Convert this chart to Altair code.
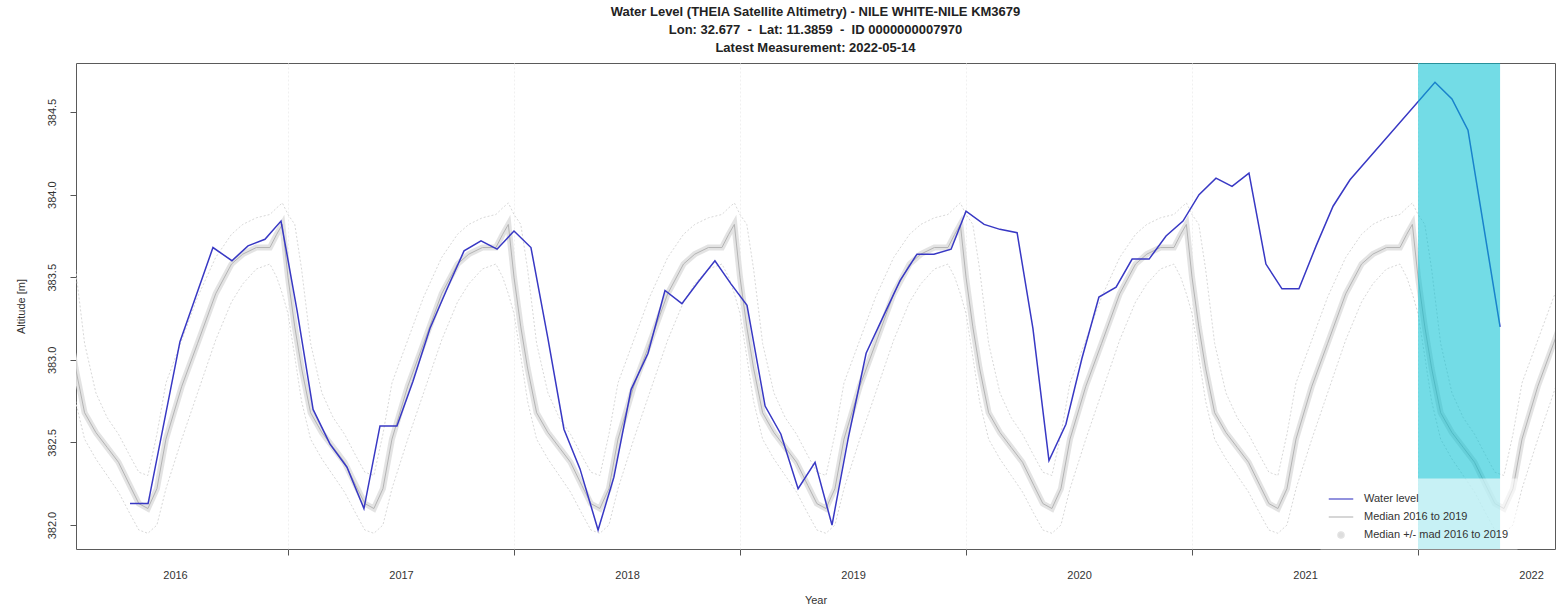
import altair as alt
import pandas as pd

# --- Water level series (decimal year, altitude in metres) ---
wl_year = [
    2016.301, 2016.381, 2016.522, 2016.668, 2016.752, 2016.823, 2016.898, 2016.969,
    2017.040, 2017.111, 2017.186, 2017.261, 2017.336, 2017.407, 2017.482, 2017.553,
    2017.628, 2017.704, 2017.779, 2017.854, 2017.925, 2018.000, 2018.075, 2018.150,
    2018.221, 2018.292, 2018.372, 2018.442, 2018.518, 2018.593, 2018.668, 2018.743,
    2018.814, 2018.889, 2018.960, 2019.031, 2019.111, 2019.181, 2019.257, 2019.332,
    2019.407, 2019.478, 2019.558, 2019.633, 2019.708, 2019.783, 2019.858, 2019.934,
    2020.000, 2020.080, 2020.150, 2020.226, 2020.296, 2020.367, 2020.442, 2020.513,
    2020.588, 2020.664, 2020.735, 2020.810, 2020.885, 2020.960, 2021.031, 2021.106,
    2021.177, 2021.252, 2021.327, 2021.398, 2021.473, 2021.549, 2021.624, 2021.699,
    2022.075, 2022.150, 2022.221, 2022.363,
]
wl_alt = [
    382.13, 382.13, 383.11, 383.68, 383.60, 383.69, 383.73, 383.84,
    383.30, 382.70, 382.49, 382.35, 382.10, 382.60, 382.60, 382.87,
    383.19, 383.43, 383.66, 383.72, 383.67, 383.78, 383.68, 383.13,
    382.58, 382.34, 381.97, 382.29, 382.82, 383.04, 383.42, 383.34,
    383.47, 383.60, 383.46, 383.33, 382.72, 382.55, 382.22, 382.38,
    382.00, 382.52, 383.04, 383.26, 383.48, 383.64, 383.64, 383.67,
    383.90, 383.82, 383.79, 383.77, 383.19, 382.39, 382.61, 383.01,
    383.38, 383.44, 383.61, 383.61, 383.75, 383.84, 384.00, 384.10,
    384.05, 384.13, 383.58, 383.43, 383.43, 383.69, 383.93, 384.09,
    384.68, 384.58, 384.39, 383.20,
]

# --- Seasonal statistics of the 2016-2019 reference period (fraction of year) ---
season_frac = [0.00, 0.03, 0.06, 0.10, 0.15, 0.20, 0.25, 0.30, 0.34, 0.38, 0.42,
               0.46, 0.53, 0.60, 0.68, 0.75, 0.80, 0.86, 0.92, 0.95, 0.975]
season_median = [383.50, 383.20, 382.95, 382.68, 382.56, 382.47, 382.38, 382.24, 382.13, 382.10, 382.22,
                 382.52, 382.84, 383.10, 383.40, 383.58, 383.64, 383.68, 383.68, 383.76, 383.82]
season_upper = [383.88, 383.82, 383.55, 383.10, 382.80, 382.65, 382.55, 382.42, 382.32, 382.30, 382.55,
                382.86, 383.12, 383.38, 383.62, 383.76, 383.82, 383.86, 383.88, 383.92, 383.95]
season_lower = [383.28, 383.02, 382.75, 382.52, 382.40, 382.30, 382.20, 382.07, 381.97, 381.95, 382.00,
                382.22, 382.52, 382.80, 383.12, 383.35, 383.46, 383.55, 383.58, 383.50, 383.40]
profile_years = list(range(2015, 2023))

# Current-year highlight (start of year to latest measurement)
highlight_start = [2022.0]
highlight_end = [2022.363]

S_WL = "Water level"
S_MED = "Median 2016 to 2019"
S_MAD = "Median +/- mad 2016 to 2019"
series_names = [S_WL, S_MED, S_MAD]
series_colors = ["#3838c4", "#b4b4b4", "#e0e0e0"]

FONT = "Liberation Sans"
NB = "\u00a0"
# small dot for the legend, drawn inside the unit square of the symbol
DOT = "M -0.26 0 A 0.26 0.26 0 1 0 0.26 0 A 0.26 0.26 0 1 0 -0.26 0 Z"

# --- Tables ---
wl = pd.DataFrame({"t": wl_year, "h": wl_alt, "series": S_WL})

rows = []
for yr in profile_years:
    for f, m, u, lo in zip(season_frac, season_median, season_upper, season_lower):
        rows.append({"t": yr + f, "median": m, "upper": u, "lower": lo})
season = pd.DataFrame(rows)
med = season[["t", "median"]].rename(columns={"median": "h"}).assign(series=S_MED)
mad = season[["t", "median"]].rename(columns={"median": "h"}).assign(series=S_MAD)
spread = pd.concat([
    season[["t", "upper"]].rename(columns={"upper": "h"}).assign(side="upper"),
    season[["t", "lower"]].rename(columns={"lower": "h"}).assign(side="lower"),
])
highlight = pd.DataFrame({"start": highlight_start, "end": highlight_end})
legend_rows = pd.DataFrame({"series": series_names})

# --- Scales and axes ---
x_scale = alt.Scale(domain=[2016.062, 2022.606], nice=False, zero=False)
y_scale = alt.Scale(domain=[381.855, 384.797], nice=False, zero=False)

x_values = [2016.5 + i * 0.5 for i in range(13)]
x_axis = alt.Axis(
    values=x_values,
    labelExpr="datum.value % 1 == 0 ? '' : toString(floor(datum.value))",
    tickOpacity={"condition": {"test": "datum.value % 1 == 0", "value": 1}, "value": 0},
    gridOpacity={"condition": {"test": "datum.value % 1 == 0", "value": 1}, "value": 0},
    grid=True, gridColor="#f0f0f0", gridDash=[2, 2],
    tickSize=6, tickColor="#555555", labelPadding=14, labelOverlap=False, labelFlush=False,
    titlePadding=14, domain=False,
)
y_axis = alt.Axis(
    values=[382.0, 382.5, 383.0, 383.5, 384.0, 384.5], format=".1f",
    labelAngle=270, labelAlign="center", labelBaseline="bottom", labelPadding=13,
    tickSize=6, tickColor="#555555", grid=False, domain=False, titlePadding=20,
)

X = alt.X("t:Q", scale=x_scale, axis=x_axis, title="Year")
Y = alt.Y("h:Q", scale=y_scale, axis=y_axis, title="Altitude [m]")
color_scale = alt.Scale(domain=series_names, range=series_colors)

spread_layer = alt.Chart(spread).mark_line(
    clip=True, strokeWidth=1, color="#d8d8d8", strokeDash=[2, 2]
).encode(x=X, y=Y, detail="side:N", order="t:Q")

mad_layer = alt.Chart(mad).mark_line(clip=True, strokeWidth=6, opacity=0.9).encode(
    x=X, y=Y, order="t:Q", color=alt.Color("series:N", scale=color_scale),
)
med_layer = alt.Chart(med).mark_line(clip=True, strokeWidth=1).encode(
    x=X, y=Y, order="t:Q", color=alt.Color("series:N", scale=color_scale),
)
wl_layer = alt.Chart(wl).mark_line(clip=True, strokeWidth=1.5).encode(
    x=X, y=Y, order="t:Q", color=alt.Color("series:N", scale=color_scale),
)
band_layer = alt.Chart(highlight).mark_rect(color="#00bfd2", opacity=0.55).encode(
    x=alt.X("start:Q", scale=x_scale), x2="end:Q"
)

legend_layer = alt.Chart(legend_rows).mark_point(opacity=0, filled=False, strokeWidth=1.2).encode(
    color=alt.Color(
        "series:N", scale=color_scale, title=None,
        legend=alt.Legend(
            orient="none", legendX=1244, legendY=415, padding=8,
            fillColor="rgba(255,255,255,0.6)", strokeColor="transparent",
            labelFont=FONT, labelFontSize=11, labelColor="#333333", labelLimit=400,
            symbolOpacity=1, symbolFillColor="#dadada", symbolSize=600,
            symbolStrokeWidth=1.2, labelOffset=10, rowPadding=0,
        ),
    ),
    shape=alt.Shape("series:N", title=None,
                    scale=alt.Scale(domain=series_names, range=["stroke", "stroke", DOT])),
)

chart = alt.layer(
    spread_layer, mad_layer, med_layer, wl_layer, band_layer, legend_layer
).properties(
    width=1479, height=486,
    padding={"left": 76, "top": 63, "right": 5, "bottom": 66},
    autosize=alt.AutoSizeParams(type="none"),
    title=alt.TitleParams(
        text=[
            "Water Level (THEIA Satellite Altimetry) - NILE WHITE-NILE KM3679",
            f"Lon: 32.677{NB}{NB}-{NB}{NB}Lat: 11.3859{NB}{NB}-{NB}{NB}ID 0000000007970",
            "Latest Measurement: 2022-05-14",
        ],
        font=FONT, fontSize=13, fontWeight="bold", color="#222222",
        anchor="middle", frame="group", lineHeight=18, offset=8,
    ),
).configure(
    font=FONT,
).configure_view(
    stroke="#5a5a5a", strokeWidth=1,
).configure_axis(
    labelFont=FONT, labelFontSize=11, labelColor="#333333",
    titleFont=FONT, titleFontSize=11, titleFontWeight="normal", titleColor="#333333",
)

chart.save("out.html", embed_options={"renderer": "svg", "actions": False})
